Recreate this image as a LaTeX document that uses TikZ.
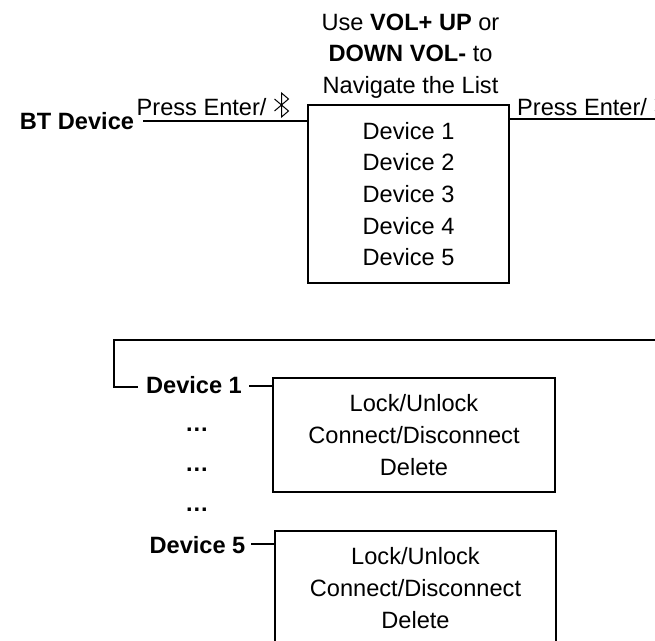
\documentclass[tikz,border=0pt]{standalone}
\usepackage{fontspec}
\setmainfont{Liberation Sans}
\tikzset{
	listbox/.style={draw, line width=1.4pt, align=center, inner sep=0pt, font=\fontsize{23.6}{31.7}\selectfont},
	plain/.style={align=center, inner sep=0pt, font=\fontsize{23.6}{31.7}\selectfont},
	head/.style={inner sep=0pt, font=\fontsize{23.6}{27}\selectfont\bfseries},
	wire/.style={line width=1.4pt},
}
\newcommand{\btsign}[2]{
	\draw[line width=1pt] (#1-7, #2+6) -- (#1+7, #2-6) -- (#1, #2-12) -- (#1, #2+12) -- (#1+7, #2+6) -- (#1-7, #2-6);
}
\begin{document}
\begin{tikzpicture}[x=1pt, y=1pt]
	\useasboundingbox (0, 0) rectangle (655, -640);
	\clip (0, 0) rectangle (655, -640);
	\node[plain] (hint) at (410.5, -56) {Use \textbf{VOL+ UP} or\\\textbf{DOWN VOL-} to\\Navigate the List};
	\node[head] (btdevice) at (77, -121) {BT Device};
	\node[listbox, minimum width=201pt, minimum height=178pt] (devlist) at (408.5, -194) {Device 1\\Device 2\\Device 3\\Device 4\\Device 5};
	\coordinate (rightend) at (655, -119);
	\coordinate (devlistright) at (devlist.east |- rightend);
	\draw[wire] (143, -121) coordinate (leftstart) -- (devlist.west |- leftstart);
	\draw[wire] (devlistright) -- (rightend);
	\node[plain, anchor=base west] (enterleft) at (136.5, -115) {Press Enter/};
	\node[plain, anchor=base west] (enterright) at (517, -115) {Press Enter/};
	\btsign{281.5}{-105}
	\btsign{662}{-105}
	% lower menu
	\node[head] (dev1) at (194, -385.5) {Device 1};
	\node[head] (dev5) at (197.5, -545.5) {Device 5};
	\node[head] (dots1) at (197, -430) {\ldots};
	\node[head] (dots2) at (197, -470) {\ldots};
	\node[head] (dots3) at (197, -510) {\ldots};
	\node[listbox, minimum width=282pt, minimum height=114pt] (menu1) at (414, -435) {Lock/Unlock\\Connect/Disconnect\\Delete};
	\coordinate (menu5nw) at (275, -531);
	\coordinate (menu5ne) at (556, -531);
	\coordinate (menu5sw) at (275, -642);
	\coordinate (menu5se) at (556, -642);
	\draw[wire] (menu5sw) -- (menu5nw) -- (menu5ne) -- (menu5se);
	\node[plain] (menu5) at (415.5, -588) {Lock/Unlock\\Connect/Disconnect\\Delete};
	\coordinate (topright) at (656, -340);
	\coordinate (topleft) at (114, -340);
	\coordinate (dev1in) at (137.5, -387);
	\draw[wire] (topright) -- (topleft) -- (topleft |- dev1in) -- (dev1in);
	\draw[wire] (249, -386) coordinate (dev1out) -- (menu1.west |- dev1out);
	\draw[wire] (251, -544) coordinate (dev5out) -- (menu5nw |- dev5out);
\end{tikzpicture}
\end{document}
